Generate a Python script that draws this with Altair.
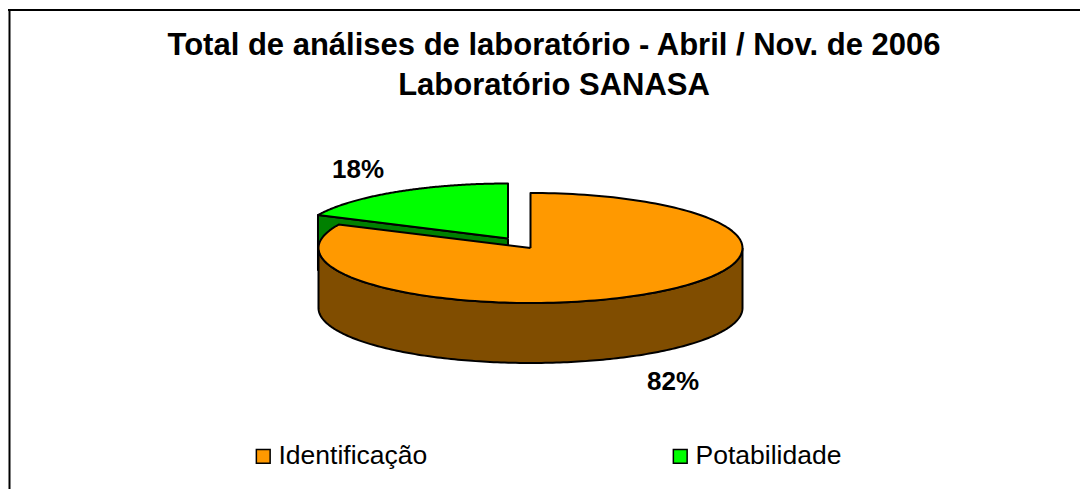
import numpy as np
import pandas as pd
import altair as alt

TITLE = ["Total de análises de laboratório - Abril / Nov. de 2006", "Laboratório SANASA"]
CATEGORIES = ["Identificação", "Potabilidade"]
SHARES = [82, 18]
TOP_COLORS = ["#FF9900", "#00FF00"]
WALL_COLORS = {"Identificação": "#804D00", "Potabilidade": "#008000"}
FONT = "Liberation Sans"

# geometry of the tilted disc, in page pixels
W, H = 1072, 481
ORANGE_C = (530.5, 248.0)
GREEN_C = (508.0, 238.5)
RX, RY, DEPTH = 212.0, 55.0, 60.0
split = 360.0 * SHARES[0] / sum(SHARES)


def rim(c, a0, a1, rx=RX, dy=0.0):
    t = np.radians(np.linspace(a0, a1, 181))
    return list(zip(c[0] + rx * np.sin(t), c[1] - RY * np.cos(t) + dy))


def frame(points, name):
    xs, ys = zip(*points)
    return pd.DataFrame({"x": xs, "y": ys, "i": range(len(xs)), "s": name})


def closed(points):
    return points + [points[0]]


orange_top = closed([ORANGE_C] + rim(ORANGE_C, 0, split))
orange_wall = closed(rim(ORANGE_C, 90, 270) + rim(ORANGE_C, 270, 90, dy=DEPTH))
green_top = closed([GREEN_C] + rim(GREEN_C, split, 360, rx=210))
tip = rim(GREEN_C, split, split, rx=210)[0]
green_wall = closed([GREEN_C, tip, (tip[0], tip[1] + DEPTH - 5), (GREEN_C[0], GREEN_C[1] + DEPTH - 5)])

X = alt.X("x:Q", scale=alt.Scale(domain=[8, 8 + W]), axis=None)
Y = alt.Y("y:Q", scale=alt.Scale(domain=[8 + H, 8]), axis=None)


def wall(points, name):
    return (
        alt.Chart(frame(points, name))
        .mark_line(fill=WALL_COLORS[name], stroke="black", strokeWidth=2, strokeJoin="round")
        .encode(x=X, y=Y, order="i:Q")
    )


def top(points, name):
    return (
        alt.Chart(frame(points, name))
        .mark_line(stroke="black", strokeWidth=2, strokeJoin="round")
        .encode(
            x=X,
            y=Y,
            order="i:Q",
            fill=alt.Fill(
                "s:N",
                scale=alt.Scale(domain=CATEGORIES, range=TOP_COLORS),
                legend=alt.Legend(
                    title=None,
                    orient="none",
                    legendX=242,
                    legendY=435,
                    direction="horizontal",
                    symbolType="square",
                    symbolSize=190,
                    symbolStrokeColor="black",
                    symbolStrokeWidth=1.5,
                    labelFont=FONT,
                    labelFontSize=26.5,
                    labelColor="black",
                    labelOffset=2,
                    columnPadding=239,
                ),
            ),
        )
    )


labels = pd.DataFrame(
    {"t": [f"{SHARES[0]}%", f"{SHARES[1]}%"], "px": [665, 350], "py": [374, 162]}
)
label_layer = (
    alt.Chart(labels)
    .mark_text(font=FONT, fontWeight="bold", fontSize=26, color="black", align="center", baseline="middle")
    .encode(
        x=alt.X("px:Q", scale=alt.Scale(domain=[0, W]), axis=None),
        y=alt.Y("py:Q", scale=alt.Scale(domain=[H, 0]), axis=None),
        text="t:N",
    )
)

border_top = alt.Chart(pd.DataFrame({"a": [0]})).mark_rule(color="black", strokeWidth=2).encode(
    x=alt.value(0), x2=alt.value(W), y=alt.value(2)
)
border_left = alt.Chart(pd.DataFrame({"a": [0]})).mark_rule(color="black", strokeWidth=2).encode(
    x=alt.value(1.5), y=alt.value(1), y2=alt.value(H)
)

chart = (
    alt.layer(
        border_top,
        border_left,
        wall(green_wall, "Potabilidade"),
        top(green_top, "Potabilidade"),
        wall(orange_wall, "Identificação"),
        top(orange_top, "Identificação"),
        label_layer,
    )
    .resolve_scale(x="independent", y="independent")
    .properties(
        width=W,
        height=H,
        padding=0,
        autosize=alt.AutoSizeParams(type="none"),
        title=alt.TitleParams(
            text=TITLE,
            font=FONT,
            fontSize=31,
            fontWeight="bold",
            color="black",
            anchor="middle",
            dx=10,
            dy=98,
            lineHeight=40,
        ),
    )
    .configure_view(stroke=None)
)

chart.save("out.html", embed_options={"renderer": "svg", "actions": False})
